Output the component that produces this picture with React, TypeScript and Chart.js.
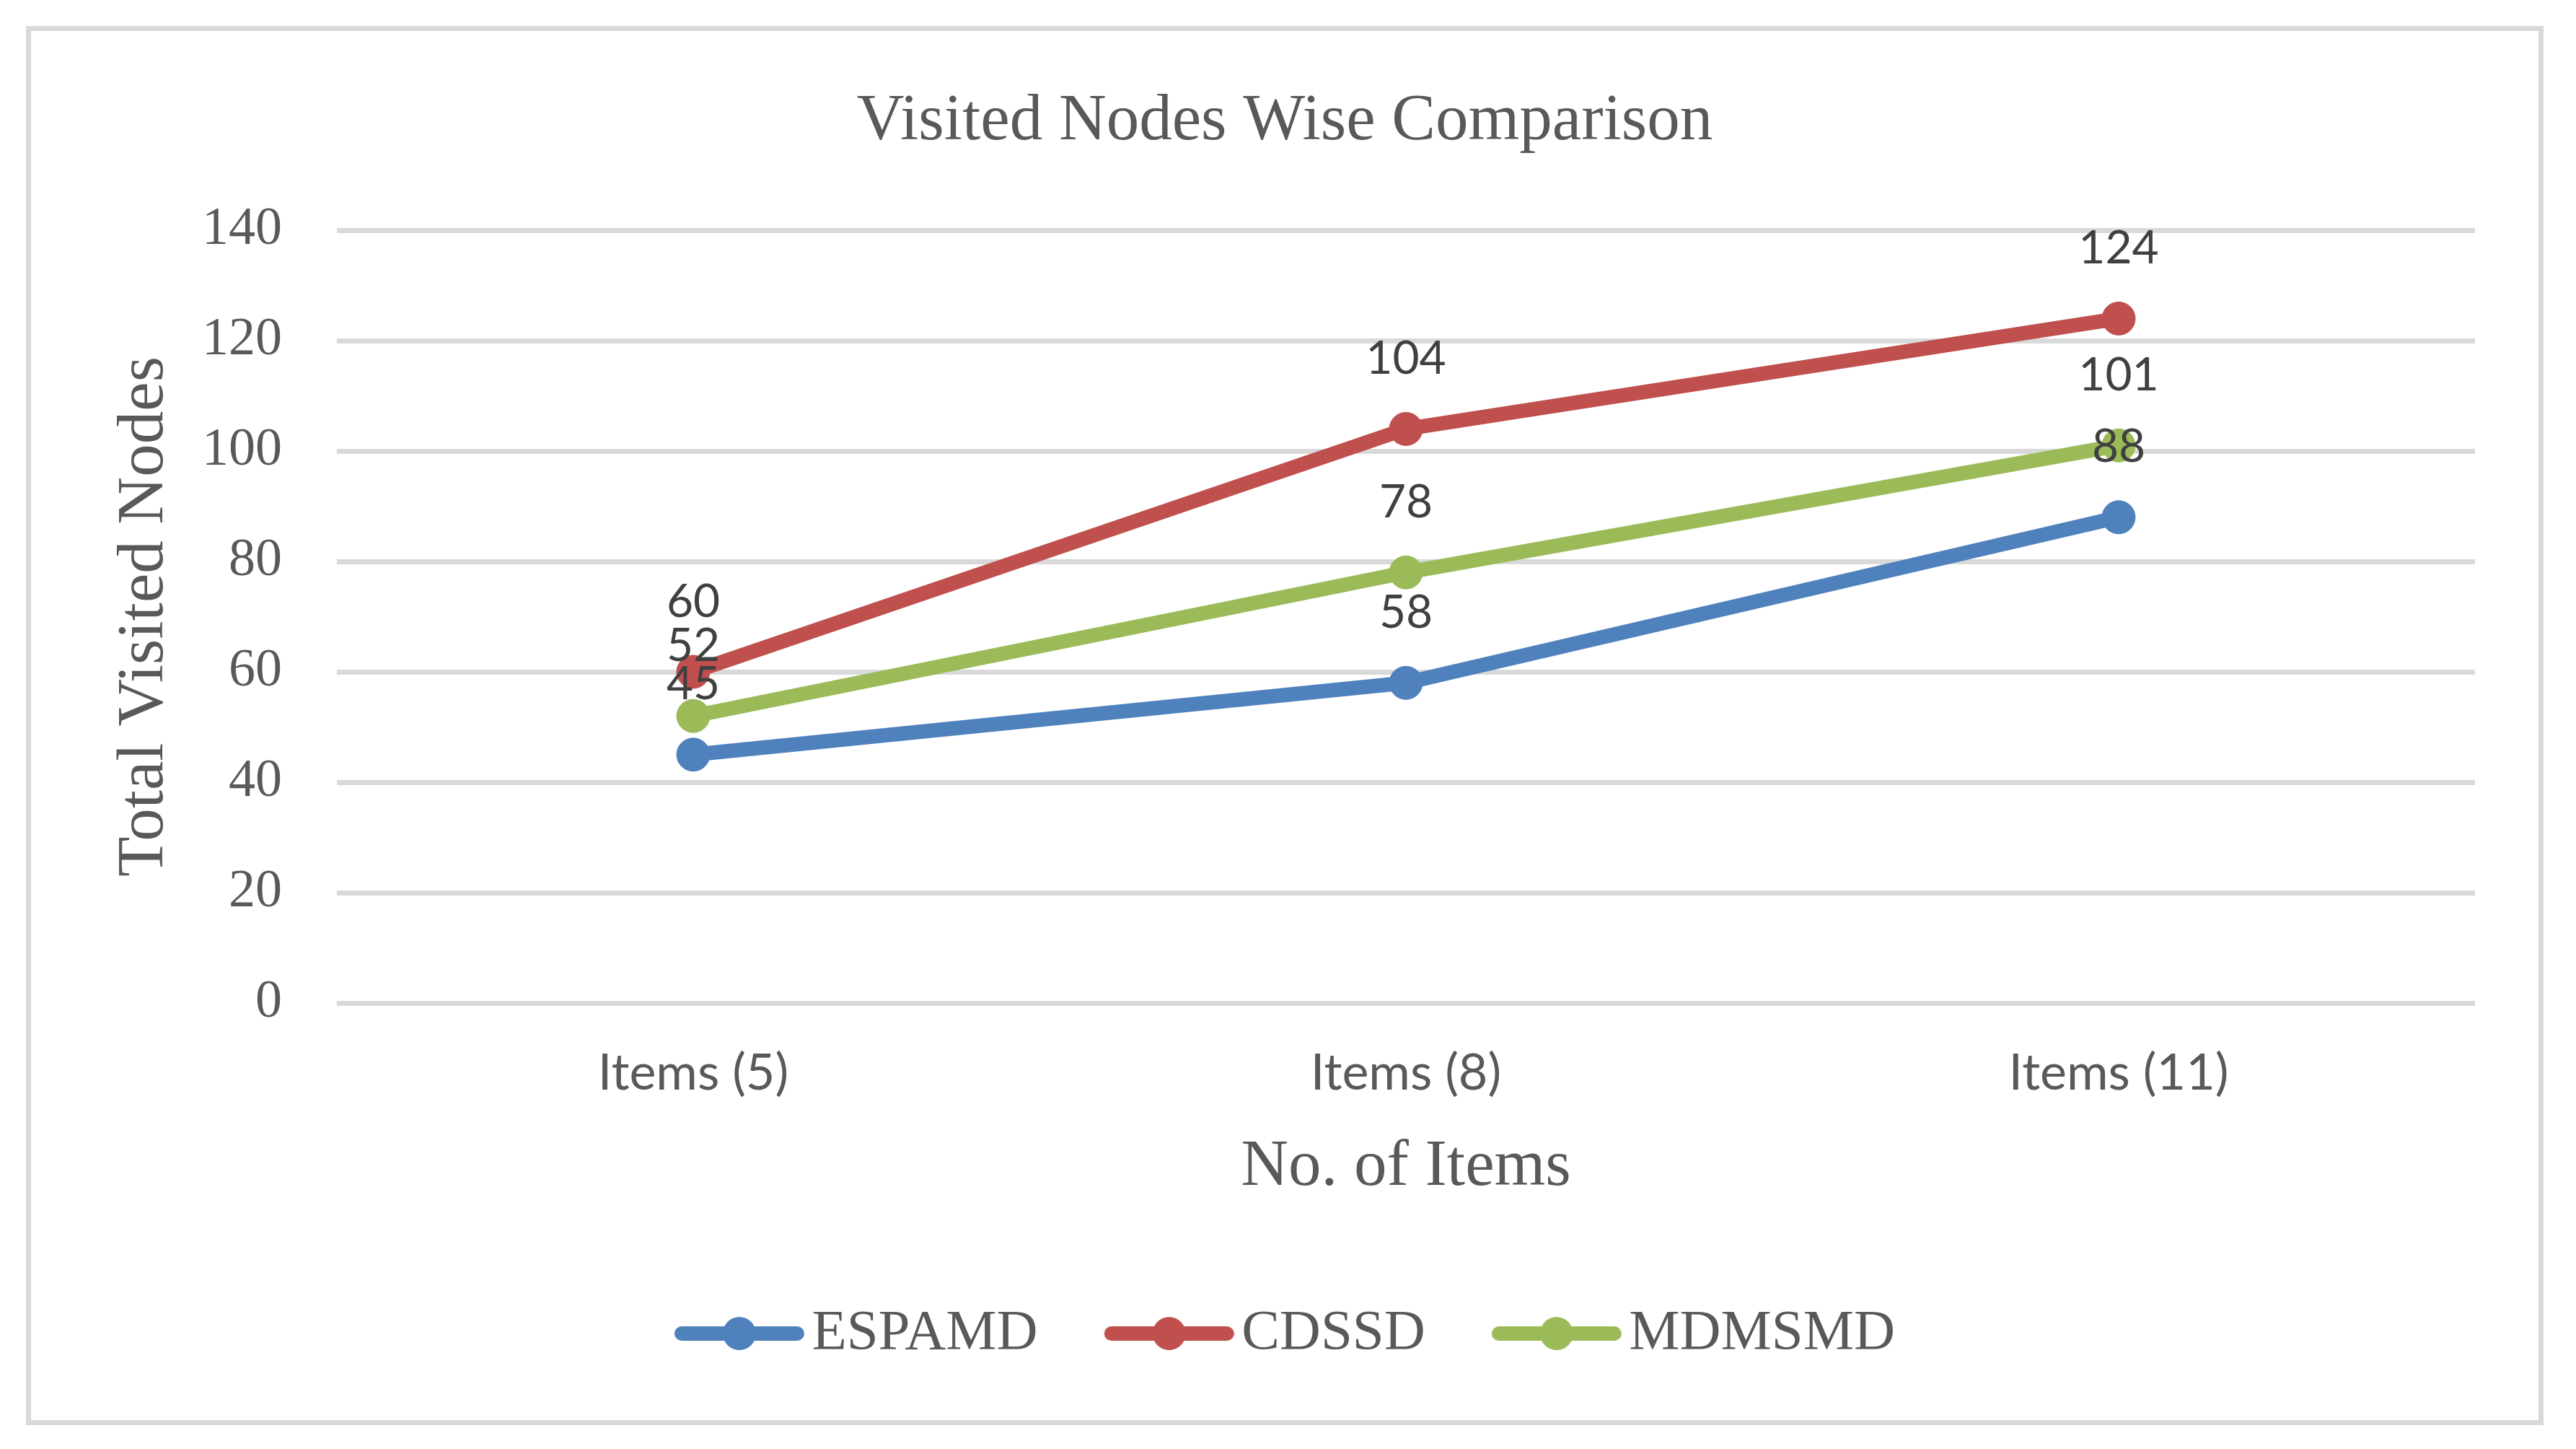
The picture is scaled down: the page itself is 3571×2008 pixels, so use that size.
import React, { useEffect, useRef } from 'react';
import { Chart, registerables } from 'chart.js';

Chart.register(...registerables);

const categories = ['Items (5)', 'Items (8)', 'Items (11)'];
const seriesNames = ['ESPAMD', 'CDSSD', 'MDMSMD'];
const espamdValues = [45, 58, 88];
const cdssdValues = [60, 104, 124];
const mdmsmdValues = [52, 78, 101];
const yMin = 0;
const yMax = 140;
const yStep = 20;
const chartTitle = 'Visited Nodes Wise Comparison';
const xTitle = 'No. of Items';
const yTitle = 'Total Visited Nodes';
const seriesColors = ['#4F81BD', '#C0504D', '#9BBB59'];

const SERIF = '"Liberation Serif", "Times New Roman", serif';
const SANS = 'Lato, "Open Sans", sans-serif';

function makeLegendImage(color: string): HTMLCanvasElement {
  const c = document.createElement('canvas');
  c.width = 209;
  c.height = 60;
  const g = c.getContext('2d')!;
  g.strokeStyle = color;
  g.lineWidth = 20;
  g.lineCap = 'round';
  g.beginPath();
  g.moveTo(39, 30);
  g.lineTo(199, 30);
  g.stroke();
  g.fillStyle = color;
  g.beginPath();
  g.arc(119, 30, 23, 0, Math.PI * 2);
  g.fill();
  return c;
}

const dataLabelPlugin = {
  id: 'dataLabels',
  afterDatasetsDraw(chart: any) {
    const ctx = chart.ctx;
    ctx.save();
    ctx.font = `64px ${SANS}`;
    ctx.fillStyle = '#404040';
    ctx.textAlign = 'center';
    ctx.textBaseline = 'middle';
    chart.data.datasets.forEach((ds: any, i: number) => {
      const meta = chart.getDatasetMeta(i);
      meta.data.forEach((pt: any, j: number) => {
        ctx.fillText(String(ds.data[j]), pt.x, pt.y - 97);
      });
    });
    ctx.restore();
  },
};

export default function App() {
  const ref = useRef<HTMLCanvasElement | null>(null);

  useEffect(() => {
    if (!ref.current) return;
    const values = [espamdValues, cdssdValues, mdmsmdValues];
    const legendImages = seriesColors.map((c) => makeLegendImage(c));
    const chart = new Chart(ref.current, {
      type: 'line',
      data: {
        labels: categories,
        datasets: seriesNames.map((name, i) => ({
          label: name,
          data: values[i],
          borderColor: seriesColors[i],
          backgroundColor: seriesColors[i],
          borderWidth: 20,
          borderCapStyle: 'round',
          borderJoinStyle: 'round',
          pointRadius: 23,
          pointBorderWidth: 1,
          pointBackgroundColor: seriesColors[i],
          pointBorderColor: seriesColors[i],
          tension: 0,
          fill: false,
        })),
      },
      options: {
        responsive: false,
        devicePixelRatio: 1,
        animation: false,
        layout: { padding: { top: 0, left: 0, right: 0, bottom: 70.5 } },
        plugins: {
          title: {
            display: true,
            text: chartTitle,
            color: '#595959',
            font: { family: SERIF, size: 91, weight: 'normal' },
            padding: { top: 71, bottom: 95.8 },
          },
          legend: {
            display: true,
            position: 'bottom',
            labels: {
              usePointStyle: true,
              pointStyleWidth: 151,
              boxHeight: 79,
              padding: 92,
              color: '#595959',
              font: { family: SERIF, size: 79 },
              generateLabels: (ch: any) => {
                const items = (Chart.defaults.plugins.legend.labels as any).generateLabels(ch);
                return items.map((it: any) => ({ ...it, pointStyle: legendImages[it.datasetIndex] }));
              },
            },
          },
          tooltip: { enabled: false },
        },
        scales: {
          x: {
            offset: true,
            grid: { display: false },
            border: { display: false },
            ticks: {
              color: '#595959',
              font: { family: SANS, size: 70 },
              padding: 47,
              maxRotation: 0,
            },
            title: {
              display: true,
              text: xTitle,
              color: '#595959',
              font: { family: SERIF, size: 91 },
              padding: { top: 30, bottom: 43.9 },
            },
            afterFit: (s: any) => {
              s.height = 326.5;
            },
          },
          y: {
            min: yMin,
            max: yMax,
            grid: { color: '#D9D9D9', lineWidth: 7, drawTicks: false },
            border: { display: false },
            ticks: {
              stepSize: yStep,
              color: '#595959',
              font: { family: SERIF, size: 74 },
              padding: 76,
            },
            title: {
              display: true,
              text: yTitle,
              color: '#595959',
              font: { family: SERIF, size: 91 },
              padding: { top: 103.4, bottom: 20 },
            },
            afterFit: (s: any) => {
              s.width = 424;
            },
          },
          yRight: {
            type: 'linear',
            position: 'right',
            display: true,
            grid: { display: false },
            border: { display: false },
            ticks: { display: false },
            afterFit: (s: any) => {
              s.width = 88;
            },
          },
        },
      } as any,
      plugins: [dataLabelPlugin],
    });
    return () => chart.destroy();
  }, []);

  return (
    <div style={{ position: 'fixed', left: 0, top: 0, width: 3571, height: 2008, background: '#ffffff' }}>
      <div
        style={{
          position: 'absolute',
          left: 36,
          top: 36,
          width: 3490,
          height: 1939,
          boxSizing: 'border-box',
          border: '7px solid #D9D9D9',
          background: '#ffffff',
        }}
      >
        <canvas ref={ref} width={3476} height={1925} style={{ display: 'block', width: 3476, height: 1925 }} />
      </div>
    </div>
  );
}
